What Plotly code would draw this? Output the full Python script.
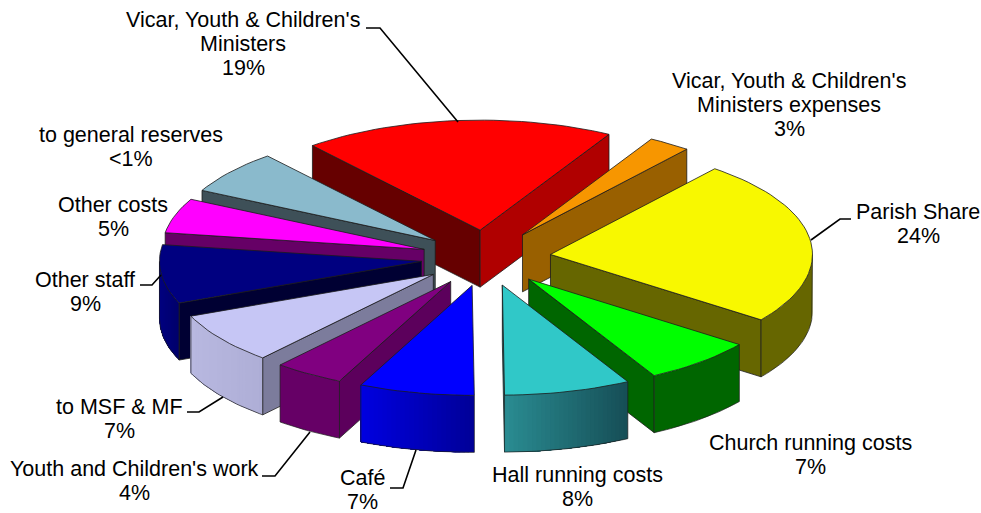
import math
import plotly.graph_objects as go

# ---------- data ----------
categories = ["Vicar, Youth & Children's Ministers", "Vicar, Youth & Children's Ministers expenses",
              "Parish Share", "Church running costs", "Hall running costs", "Café",
              "Youth and Children's work", "to MSF & MF", "Other staff", "Other costs",
              "to general reserves"]
slice_shares = [19.2, 2.6, 24.3, 6.9, 7.8, 7.1, 4.3, 7.5, 8.6, 5.1, 6.4]
percent_labels = ["19%", "3%", "24%", "7%", "8%", "7%", "4%", "7%", "9%", "5%", "<1%"]

# ---------- styles ----------
top_colors = ["#FF0000", "#F79600", "#F8F800", "#00FF00", "#30C8C8", "#0000FF",
              "#800080", "#C6C6F5", "#000080", "#FF00FF", "#8ABACC"]
a0_colors = ["#660000", "#996000", "#666600", "#006600", "#1F6F75", "#000099",
             "#5C005C", "#7C7C9C", "#000033", "#660066", "#3E5058"]
a1_colors = ["#B00000", "#996000", "#666600", "#006600", "#2A8A90", "#000099",
             "#5C005C", "#7C7C9C", "#000033", "#660066", "#3E5058"]
wall_left = ["#660000", "#996000", "#666600", "#006600", "#2A8C92", "#0000E0",
             "#660066", "#B8B8E0", "#000080", "#660066", "#3E5058"]
wall_right = ["#660000", "#996000", "#666600", "#006600", "#164E56", "#000098",
              "#660066", "#AEAED6", "#00006A", "#660066", "#3E5058"]
paint_order = [0, 1, 10, 2, 9, 8, 3, 7, 6, 4, 5]

START, CX, CY, RX, RY, EX, EY, DEPTH = -39.8, 486, 258, 262, 110, 65, 28, 57
EDGE = "#1c1c1c"


def mix(c1, c2, t):
    a = [int(c1[i:i + 2], 16) for i in (1, 3, 5)]
    b = [int(c2[i:i + 2], 16) for i in (1, 3, 5)]
    return "rgb(%d,%d,%d)" % tuple(round(p + (q - p) * t) for p, q in zip(a, b))


fig = go.Figure()


def poly(xs, ys, fill=None, line=EDGE, width=0.8):
    fig.add_trace(go.Scatter(
        x=xs, y=ys, mode="lines", hoverinfo="skip", showlegend=False,
        fill="toself" if fill else "none", fillcolor=fill,
        line=dict(color=line, width=width)))


total = sum(slice_shares)
bounds, acc = [], START
for s in slice_shares:
    bounds.append((acc, acc + s / total * 360))
    acc += s / total * 360

for i in paint_order:
    a0, a1 = bounds[i]
    mid = math.radians((a0 + a1) / 2)
    ax, ay = CX + EX * math.sin(mid), CY - EY * math.cos(mid)


    def pt(deg):
        r = math.radians(deg)
        return ax + RX * math.sin(r), ay - RY * math.cos(r)


    # radial walls facing the viewer
    if math.sin(math.radians(a0)) < 0:
        x, y = pt(a0)
        poly([ax, x, x, ax, ax], [ay, y, y + DEPTH, ay + DEPTH, ay], a0_colors[i])
    if math.sin(math.radians(a1)) > 0:
        x, y = pt(a1)
        poly([ax, x, x, ax, ax], [ay, y, y + DEPTH, ay + DEPTH, ay], a1_colors[i])

    # outer wall, front part only: nested bands painted in order so no seams appear
    lo, hi = max(a0, 90), min(a1, 270)
    if hi > lo:
        n = max(2, int(hi - lo))
        angs = [lo + (hi - lo) * k / n for k in range(n + 1)]
        pts = [pt(d) for d in angs]
        xs = [p[0] for p in pts]
        ys = [p[1] for p in pts]
        xmin, xmax = min(xs), max(xs)
        bands = 1 if wall_left[i] == wall_right[i] else n
        for k in range(bands):
            t = ((xs[k] + xs[k + 1]) / 2 - xmin) / max(xmax - xmin, 1)
            c = mix(wall_left[i], wall_right[i], t)
            poly(xs[k:] + xs[k:][::-1] + [xs[k]],
                 ys[k:] + [v + DEPTH for v in ys[k:]][::-1] + [ys[k]], c, c, 0)
        poly([xs[0]] + xs + [xs[-1]],
             [ys[0]] + [v + DEPTH for v in ys] + [ys[-1]], None, EDGE, 0.7)

    # top face
    n = max(4, int((a1 - a0) / 2))
    arc = [pt(a0 + (a1 - a0) * k / n) for k in range(n + 1)]
    poly([ax] + [p[0] for p in arc] + [ax], [ay] + [p[1] for p in arc] + [ay], top_colors[i])

# ---------- labels (one annotation per printed line) ----------
label_blocks = [
    (["Vicar, Youth & Children's", "Ministers"], 243, 19.5),
    (["Vicar, Youth & Children's", "Ministers expenses"], 789, 80.5),
    (["Parish Share"], 918, 211.5),
    (["Church running costs"], 810, 442.5),
    (["Hall running costs"], 577, 474.5),
    (["Café"], 362, 478),
    (["Youth and Children's work"], 134, 468.5),
    (["to MSF & MF"], 119, 406.5),
    (["Other staff"], 85, 279.5),
    (["Other costs"], 113, 204.5),
    (["to general reserves"], 131, 134.5),
]
annotations = []
for (lines, x, y), pct in zip(label_blocks, percent_labels):
    for k, text in enumerate(lines + [pct]):
        annotations.append(dict(x=x, y=y + k * 24.2, xref="x", yref="y", text=text,
                                showarrow=False, xanchor="center", yanchor="middle", borderpad=0,
                                font=dict(family="Liberation Sans, Arial", size=21.5, color="#000000")))

leaders = [
    [(458, 122), (380, 28), (366, 28)],
    [(811, 240), (840, 219), (851, 219)],
    [(161, 275), (152, 285), (140, 285)],
    [(223, 397), (199, 412), (187, 412)],
    [(310, 432), (275, 476), (262, 476)],
    [(416, 450), (403, 488), (390, 488)],
]
shapes = []
for path in leaders:
    d = "M " + " L ".join("%g %g" % p for p in path)
    shapes.append(dict(type="path", path=d, xref="x", yref="y", line=dict(color="#000000", width=1.6)))

fig.update_layout(
    width=981, height=513, autosize=False,
    margin=dict(l=0, r=0, t=0, b=0),
    paper_bgcolor="#FFFFFF", plot_bgcolor="#FFFFFF",
    xaxis=dict(range=[0, 981], visible=False, fixedrange=True),
    yaxis=dict(range=[513, 0], visible=False, fixedrange=True),
    annotations=annotations, shapes=shapes,
)
fig.write_html("out.html", config={"displayModeBar": False},
               post_script="document.body.style.margin='0';document.body.style.overflow='hidden';")
